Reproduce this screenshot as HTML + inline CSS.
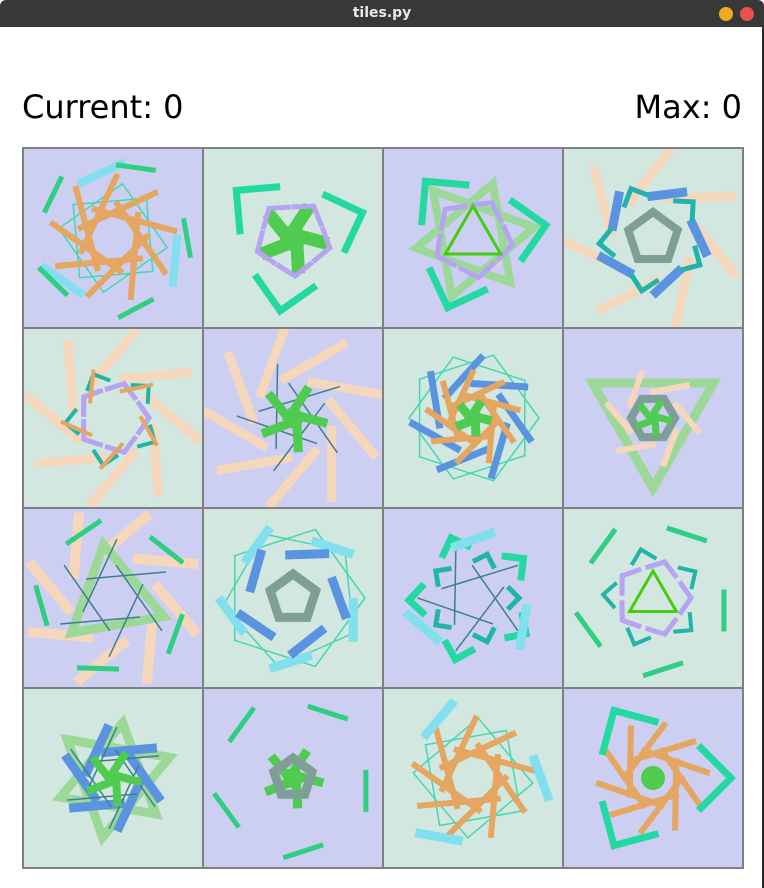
<!DOCTYPE html>
<html><head><meta charset="utf-8">
<style>
html,body{margin:0;padding:0;width:764px;height:888px;overflow:hidden;background:#fff;font-family:"DejaVu Sans","Liberation Sans",sans-serif;}
#titlebar{position:absolute;left:0;top:0;width:764px;height:27px;background:#383838;border-radius:6px 6px 0 0;}
#title{position:absolute;left:0;width:764px;top:5px;text-align:center;color:#e8e8e8;font-weight:bold;font-size:14px;}
.btn{position:absolute;top:7px;width:14px;height:14px;border-radius:50%;}
#win{position:absolute;left:0;top:27px;width:762px;height:861px;background:#fff;border-right:2px solid #2a2a2a;}
.score{position:absolute;top:88px;font-size:32px;color:#000;}
#grid{position:absolute;left:22px;top:147px;}
</style></head><body>
<div id="titlebar">
  <div id="title">tiles.py</div>
  <div class="btn" style="left:719px;background:#f0ab1e"></div>
  <div class="btn" style="left:740px;background:#e8524a"></div>
</div>
<div id="win"></div>
<div class="score" style="left:22px">Current: 0</div>
<div class="score" style="right:22px">Max: 0</div>
<svg id="grid" width="722" height="722" viewBox="0 0 722 722"></svg>
<script>
// tile backgrounds (checkerboard)
const tileBg = ["lav","mint","lav","mint","mint","lav","mint","lav","lav","mint","lav","mint","mint","lav","mint","lav"];
const palette = {lav:"#cccff2",mint:"#d2e7e0",orange:"#e4a660",cyan:"#82dfee",green:"#2ecf82",bracket:"#22d9a2",purple:"#b8a2f2",lime:"#4fcc4f",bright:"#44cc11",pale:"#9cd898",blue:"#5a94e0",peach:"#f7d7bc",gray:"#7f9e96",teal:"#22b4a8",thin:"#44d8b0",dark:"#3e7f8e"};
// layer specs per tile: [shape, count, radius, length, width, color, rotation, tilt]
const tiles = [
 [["poly",4,55,0,1.5,"thin",10,0],["poly",4,52,0,1.5,"thin",40,0],["bar",9,28,88,6,"orange",0,55],["bar",3,66,52,8,"cyan",20,75],["bar",5,74,40,5,"green",0,80]],
 [["bar",5,14,44,13,"lime",0,15],["chev",5,38,22,5,"purple",15,0],["brk",3,74,44,7,"bracket",-140,0]],
 [["poly",3,62,0,8,"pale",-10,0],["poly",3,58,0,8,"pale",50,0],["chev",5,40,22,5,"purple",10,0],["poly",3,32,0,3,"bright",-90,0],["brk",3,74,44,7,"bracket",-130,0]],
 [["bar",7,62,72,9,"peach",10,40],["bar",5,46,40,9,"blue",0,65],["brk",5,54,20,5,"teal",30,0],["poly",5,26,0,8,"gray",-90,0]],
 [["bar",8,60,72,9,"peach",0,40],["chev",5,36,20,5,"purple",0,0],["brk",5,48,18,4,"teal",30,0],["bar",5,38,34,4,"orange",20,40]],
 [["bar",9,60,76,9,"peach",10,40],["line",5,20,85,1.5,"dark",0,55],["bar",5,14,42,9,"lime",0,15]],
 [["poly",5,66,0,1.5,"thin",0,0],["poly",5,64,0,1.5,"thin",36,0],["bar",7,42,58,7,"blue",0,55],["bar",9,24,60,6,"orange",0,55],["bar",5,8,22,9,"lime",0,15]],
 [["poly",3,70,0,9,"pale",-30,0],["bar",6,34,40,6,"peach",0,50],["poly",6,22,0,8,"gray",0,0],["bar",5,8,22,7,"lime",0,15]],
 [["bar",8,64,66,10,"peach",10,40],["poly",3,54,0,9,"pale",20,0],["line",6,26,80,1.5,"dark",0,55],["bar",5,72,42,5,"green",30,80]],
 [["poly",5,72,0,1.5,"thin",0,0],["poly",5,70,0,1.5,"thin",30,0],["bar",5,64,44,9,"cyan",20,70],["bar",5,46,44,9,"blue",0,70],["poly",5,24,0,9,"gray",-90,0]],
 [["line",5,22,80,1.5,"dark",0,55],["brk",5,64,22,7,"bracket",-110,0],["bar",3,58,46,9,"cyan",30,70],["brk",5,46,16,5,"teal",0,0]],
 [["poly",3,27,0,3,"bright",-90,0],["chev",5,38,20,5,"purple",0,0],["brk",5,50,18,4,"teal",40,0],["bar",5,72,42,5,"green",10,80]],
 [["poly",3,60,0,9,"pale",-20,0],["poly",3,56,0,9,"pale",40,0],["bar",6,32,56,9,"blue",0,55],["line",6,22,70,1.5,"dark",0,55],["bar",5,12,34,8,"lime",0,15]],
 [["bar",5,74,42,5,"green",10,80],["bar",5,12,38,9,"lime",0,15],["poly",5,20,0,9,"gray",-90,0]],
 [["poly",4,60,0,1.5,"thin",5,0],["poly",4,58,0,1.5,"thin",35,0],["bar",9,28,84,6,"orange",0,55],["bar",3,68,48,9,"cyan",0,70]],
 [["bar",10,28,72,6,"orange",0,55],["brk",3,78,46,7,"bracket",-120,0],["dot",1,0,0,12,"lime",0,0]]
];
const NS="http://www.w3.org/2000/svg";
const svg=document.getElementById('grid');
const T=180;
function rad(d){return d*Math.PI/180;}
function mk(tag,attrs,parent){const e=document.createElementNS(NS,tag);for(const k in attrs)e.setAttribute(k,attrs[k]);parent.appendChild(e);return e;}
tiles.forEach((layers,ti)=>{
  const col=ti%4,row=Math.floor(ti/4);
  const g=mk('g',{transform:`translate(${1+col*T},${1+row*T})`},svg);
  
  
  mk('rect',{x:0,y:0,width:T,height:T,fill:palette[tileBg[ti]]},g);
  const cp=mk('clipPath',{id:'c'+ti},g);mk('rect',{x:0,y:0,width:T,height:T},cp);
  const inner=mk('g',{'clip-path':`url(#c${ti})`},g);
  const cx=90,cy=90;
  layers.forEach(([shape,n,r,len,w,c,rot,tilt])=>{
    const col=palette[c];
    if(shape==='poly'){
      const pts=[];for(let i=0;i<n;i++){const a=rad(rot+i*360/n);pts.push((cx+r*Math.cos(a)).toFixed(1)+','+(cy+r*Math.sin(a)).toFixed(1));}
      const p=mk('polygon',{points:pts.join(' '),fill:'none',stroke:col,'stroke-width':w,'stroke-linejoin':'miter'},inner);
      
      
      return;
    }
    if(shape==='dot'){const d=mk('circle',{cx,cy,r:w,fill:col},inner);return;}
    for(let i=0;i<n;i++){
      const a=rot+i*360/n;
      const px=cx+r*Math.cos(rad(a)),py=cy+r*Math.sin(rad(a));
      if(shape==='bar'||shape==='line'){
        const d=rad(a+tilt);const dx=len/2*Math.cos(d),dy=len/2*Math.sin(d);
        const l=mk('line',{x1:px-dx,y1:py-dy,x2:px+dx,y2:py+dy,stroke:col,'stroke-width':w},inner);
        
        
      } else {
        const spread=shape==='brk'?45:55;
        const a1=rad(a+180-spread),a2=rad(a+180+spread);
        const pts=`${px+len*Math.cos(a1)},${py+len*Math.sin(a1)} ${px},${py} ${px+len*Math.cos(a2)},${py+len*Math.sin(a2)}`;
        const p=mk('polyline',{points:pts,fill:'none',stroke:col,'stroke-width':w},inner);
        
        
      }
    }
  });
  mk('rect',{x:0,y:0,width:T,height:T,fill:'none',stroke:'#808080','stroke-width':2},g);
});
</script>
</body></html>
